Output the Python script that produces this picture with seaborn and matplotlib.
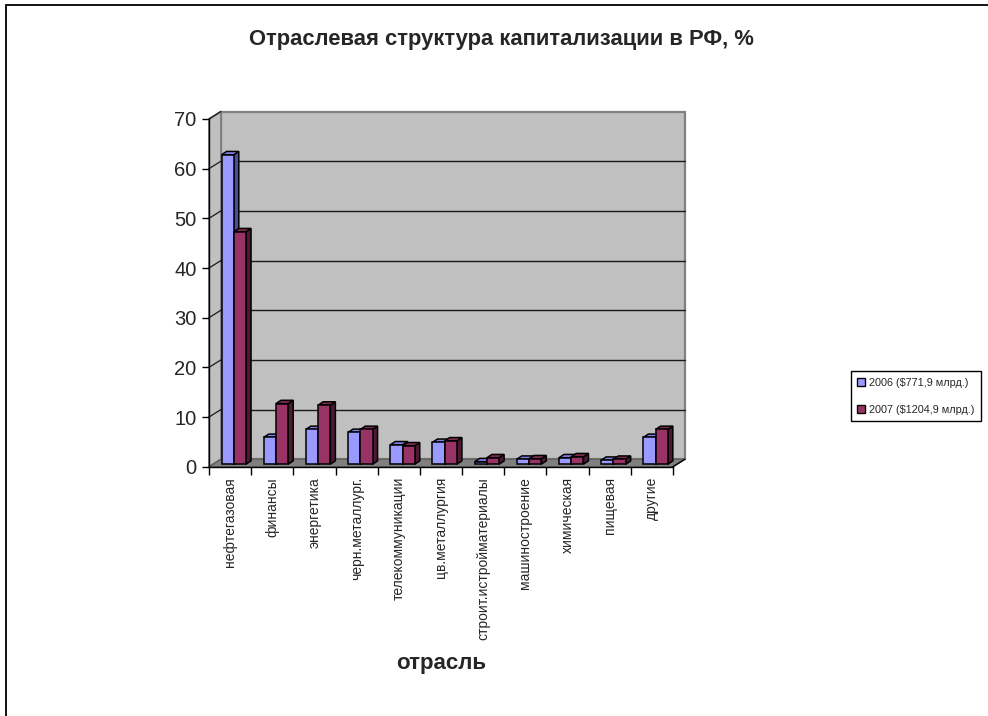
import numpy as np
import pandas as pd
import matplotlib
matplotlib.use("Agg")
import matplotlib.pyplot as plt
import matplotlib.transforms as mtransforms
from matplotlib.patches import Polygon, Rectangle
from matplotlib.lines import Line2D
import seaborn as sns

# ---- data -------------------------------------------------------------
sectors = ["нефтегазовая", "финансы", "энергетика", "черн.металлург.",
           "телекоммуникации", "цв.металлургия", "строит.истройматериалы",
           "машиностроение", "химическая", "пищевая", "другие"]
share_2006 = [62.3, 5.4, 7.0, 6.4, 3.9, 4.4, 0.5, 1.0, 1.3, 0.8, 5.4]
share_2007 = [46.8, 12.2, 11.9, 7.0, 3.7, 4.7, 1.3, 1.1, 1.5, 1.0, 7.0]
years = ["2006", "2007"]
series_labels = ["2006 (\\$771,9 млрд.)", "2007 (\\$1204,9 млрд.)"]
y_ticks = [0, 10, 20, 30, 40, 50, 60, 70]

title = "Отраслевая структура капитализации в РФ, %"
x_title = "отрасль"

# ---- style --------------------------------------------------------------
sns.set_style("white")
plt.rcParams["font.family"] = ["Liberation Sans", "DejaVu Sans"]

front_colors = ["#9999FF", "#993366"]
side_colors = ["#4D4D99", "#4D1933"]
top_colors = ["#8080E6", "#80294F"]
wall_color = "#C0C0C0"
floor_color = "#808080"

W, H, DPI = 988, 716, 100
fig = plt.figure(figsize=(W / DPI, H / DPI), dpi=DPI)
fig.patch.set_facecolor("white")
ax = fig.add_axes([209 / W, 1 - 466.7 / H, 464 / W, 347.7 / H])
ax.patch.set_visible(False)

df = pd.DataFrame({
    "sector": sectors * 2,
    "share": share_2006 + share_2007,
    "year": [years[0]] * len(sectors) + [years[1]] * len(sectors),
})
sns.barplot(data=df, x="sector", y="share", hue="year", order=sectors,
            hue_order=years, palette=front_colors, width=0.58, gap=0,
            saturation=1, edgecolor="black", linewidth=1.1, legend=False,
            ax=ax)

xmin, xmax = -0.5, len(sectors) - 0.5
ymin, ymax = y_ticks[0], y_ticks[-1]
ax.set_xlim(xmin, xmax)
ax.set_ylim(ymin, ymax)
ax.set_xlabel("")
ax.set_ylabel("")

# depth of the 3-D box (pixels, display space)
depth = np.array([12.0, 7.5])
bar_shift = np.array([3.7, 2.5])
bar_depth = np.array([5.0, 3.3])

T = ax.transData
ident = mtransforms.IdentityTransform()
back_tr = T + mtransforms.ScaledTranslation(depth[0] / DPI, depth[1] / DPI,
                                            fig.dpi_scale_trans)
bar_tr = T + mtransforms.ScaledTranslation(bar_shift[0] / DPI, bar_shift[1] / DPI,
                                           fig.dpi_scale_trans)


def disp(x, y):
    return np.asarray(T.transform((x, y)))


# back wall
ax.add_patch(Rectangle((xmin, ymin), xmax - xmin, ymax - ymin, transform=back_tr,
                       facecolor=wall_color, edgecolor="#808080", lw=1.6,
                       zorder=0.2, clip_on=False))
# left wall
lw_pts = [disp(xmin, ymin), disp(xmin, ymax), disp(xmin, ymax) + depth,
          disp(xmin, ymin) + depth]
ax.add_patch(Polygon(lw_pts, closed=True, transform=ident, facecolor=wall_color,
                     edgecolor="#808080", lw=1.4, zorder=0.3, clip_on=False))
# floor
fl_pts = [disp(xmin, ymin), disp(xmax, ymin), disp(xmax, ymin) + depth,
          disp(xmin, ymin) + depth]
ax.add_patch(Polygon(fl_pts, closed=True, transform=ident, facecolor=floor_color,
                     edgecolor="#606060", lw=1.0, zorder=0.4, clip_on=False))
ax.add_line(Line2D([fl_pts[1][0], fl_pts[2][0]], [fl_pts[1][1], fl_pts[2][1]],
                   transform=ident, color="black", lw=1.0, zorder=0.45,
                   clip_on=False))

# gridlines on back and left walls
for v in y_ticks[1:-1]:
    ax.add_line(Line2D([xmin, xmax], [v, v], transform=back_tr, color="#1a1a1a",
                       lw=1.0, zorder=0.5, clip_on=False))
for v in y_ticks[1:]:
    a = disp(xmin, v)
    b = a + depth
    ax.add_line(Line2D([a[0], b[0]], [a[1], b[1]], transform=ident,
                       color="#1a1a1a", lw=0.9, zorder=0.5, clip_on=False))

# 3-D bars: shift the front faces and add side / top faces
for k, container in enumerate(ax.containers):
    z = 3 + k
    for rect in container:
        rect.set_transform(bar_tr)
        rect.set_clip_on(False)
        rect.set_zorder(z + 0.1)
        x0, w, h = rect.get_x(), rect.get_width(), rect.get_height()
        p_bl = disp(x0, 0) + bar_shift
        p_br = disp(x0 + w, 0) + bar_shift
        p_tr = disp(x0 + w, h) + bar_shift
        p_tl = disp(x0, h) + bar_shift
        side = [p_br, p_br + bar_depth, p_tr + bar_depth, p_tr]
        top = [p_tl, p_tr, p_tr + bar_depth, p_tl + bar_depth]
        ax.add_patch(Polygon(side, closed=True, transform=ident,
                             facecolor=side_colors[k], edgecolor="black",
                             lw=1.1, zorder=z, clip_on=False))
        ax.add_patch(Polygon(top, closed=True, transform=ident,
                             facecolor=top_colors[k], edgecolor="black",
                             lw=1.1, zorder=z, clip_on=False))

# axes, ticks and labels
for s in ("top", "right"):
    ax.spines[s].set_visible(False)
for s in ("left", "bottom"):
    ax.spines[s].set_color("black")
    ax.spines[s].set_linewidth(1.0)
    ax.spines[s].set_zorder(6)

ax.set_yticks(y_ticks)
ax.set_yticklabels([str(v) for v in y_ticks], fontsize=14.5)
ax.tick_params(axis="y", length=5, width=1.0, color="black", pad=4,
               direction="out", left=True)
ax.set_xticks(range(len(sectors)))
ax.set_xticklabels(sectors, rotation=90, fontsize=10, va="top", ha="center")
ax.set_xticks(np.arange(xmin, xmax + 0.01, 1.0), minor=True)
ax.tick_params(axis="x", which="major", length=0, pad=7.5)
ax.tick_params(axis="x", which="minor", length=6, width=1.0, color="black",
               direction="out", bottom=True)

fig.text(501 / W, 1 - 39.5 / H, title, ha="center", va="center", fontsize=15.8,
         fontweight="bold")
fig.text(441.5 / W, 1 - 664 / H, x_title, ha="center", va="center", fontsize=16,
         fontweight="bold")

handles = [Line2D([], [], marker="s", linestyle="", markersize=5.3,
                  markerfacecolor=c, markeredgecolor="black", markeredgewidth=1.0)
           for c in front_colors]
leg = fig.legend(handles, series_labels, loc="upper left",
                 bbox_to_anchor=(851 / W, 1 - 371 / H), fontsize=7.8,
                 frameon=True, fancybox=False, shadow=False, framealpha=1,
                 edgecolor="black", borderpad=0.6, labelspacing=1.6,
                 handlelength=0.7, handletextpad=0.4, borderaxespad=0)
leg.get_frame().set_linewidth(1.0)

# chart border
fig.add_artist(Rectangle((5.5 / W, -0.1), 1.2, 1 - 5 / H + 0.1,
                         transform=fig.transFigure, fill=False,
                         edgecolor="black", lw=1.3))

fig.savefig("out.png", dpi=DPI)
